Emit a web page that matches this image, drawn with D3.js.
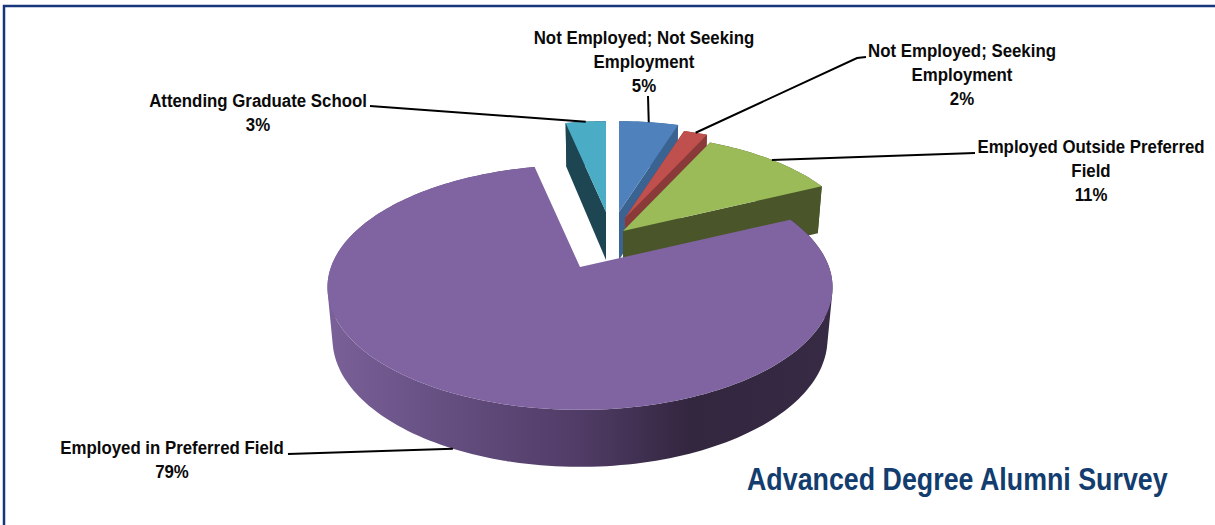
<!DOCTYPE html>
<html><head><meta charset="utf-8">
<script src="https://cdn.jsdelivr.net/npm/d3@7"></script>
<style>html,body{margin:0;padding:0;background:#fff}svg{display:block}</style>
</head><body><svg id="c" width="1215" height="525"></svg>
<script>
const categories=["Not Employed; Not Seeking Employment","Not Employed; Seeking Employment","Employed Outside Preferred Field","Employed in Preferred Field","Attending Graduate School"];
const values=[5,2,11,78.6,3.4];
const percentLabels=["5%","2%","11%","79%","3%"];
const labelLines=[["Not Employed; Not Seeking","Employment"],["Not Employed; Seeking","Employment"],["Employed Outside Preferred","Field"],["Employed in Preferred Field"],["Attending Graduate School"]];
const topColors=["#4F81BD","#C0504D","#9BBB59","#8064A2","#4BACC6"];
const wallColors=["#3A6391","#8A3A38","#4A5529","#5a4676","#1E4552"];
// layout: exploded apex of each slice, disc scale, label centre + first baseline, leader elbow
const apexes=[[619,212],[625,218],[623,231],[580,267],[606,212]];
const discScale=[0.89,0.89,0.945,1,0.89];
const labelPos=[[644,44],[962,57],[1091,153],[172,454],[258,107]];
const leaderStart=[[648,96],[866,57],[975,153],[288,454],[370,106]];
const leaderElbow=[null,[857,58],null,null,null];
const drawOrder=[4,0,1,2,3];
const RX=249,RY=119,PERSP=-0.167,SHRINK=0.98;

const svg=d3.select("#c");
const defs=svg.append("defs");
const grad=defs.append("linearGradient").attr("id","purpleWall").attr("gradientUnits","userSpaceOnUse")
  .attr("x1",327).attr("x2",832).attr("y1",0).attr("y2",0);
[[0,"#7A6199"],[0.3,"#5F4A7A"],[0.5,"#503C66"],[0.72,"#33263F"],[1,"#362A44"]]
  .forEach(s=>grad.append("stop").attr("offset",s[0]).attr("stop-color",s[1]));

svg.append("path").attr("d","M4,525V6H1215").attr("fill","none").attr("stroke","#17357C").attr("stroke-width",2.5);

const pie=d3.pie().sort(null).value(d=>d).startAngle(0).endAngle(2*Math.PI);
const arcs=pie(values);
const onTop=(i,a)=>{const u=Math.sin(a),v=-Math.cos(a),w=1+PERSP*v,s=discScale[i];
  return [apexes[i][0]+RX*s*u/w,apexes[i][1]+RY*s*v/w];};
const down=(i,p)=>[apexes[i][0]+(p[0]-apexes[i][0])*SHRINK,p[1]+44+0.0455*(p[1]-124)];
const line=d3.line();
const quad=q=>line(d3.polygonArea(q)<0?q.slice().reverse():q)+"Z";
drawOrder.forEach(i=>{
  const d=arcs[i],n=Math.max(4,Math.ceil((d.endAngle-d.startAngle)*40));
  const pts=d3.range(n+1).map(k=>onTop(i,d.startAngle+(d.endAngle-d.startAngle)*k/n));
  const apex=apexes[i];
  const g=svg.append("g");
  const fill=i===3?"url(#purpleWall)":wallColors[i];
  const ribbon=d3.range(n).map(k=>quad([pts[k],pts[k+1],down(i,pts[k+1]),down(i,pts[k])])).join("");
  g.append("path").attr("d",ribbon).attr("fill",fill);
  if(i!==3)[pts[0],pts[n]].forEach(e=>g.append("path").attr("d",line([apex,e,down(i,e),down(i,apex)])+"Z").attr("fill",wallColors[i]));
  g.append("path").attr("d",line([apex].concat(pts))+"Z").attr("fill",topColors[i]);
});
// leaders
arcs.forEach((d,i)=>{
  const mid=(d.startAngle+d.endAngle)/2;
  let e=onTop(i,mid); if(i===3) e=down(i,e);
  const pts=[leaderStart[i]]; if(leaderElbow[i]) pts.push(leaderElbow[i]); pts.push(e);
  svg.append("path").attr("d",line(pts)).attr("fill","none").attr("stroke","#000").attr("stroke-width",2);
});
// labels (Liberation Sans Bold, condensed horizontally)
const FONT='"Liberation Sans",Arial,sans-serif';
labelLines.forEach((ls,i)=>{
  const t=svg.append("text").attr("text-anchor","middle").attr("font-family",FONT).attr("font-weight","700").attr("font-size",18.5).attr("fill","#0a0a0a")
    .attr("transform",`translate(${labelPos[i][0]},0) scale(0.91,1)`);
  ls.concat(percentLabels[i]).forEach((s,k)=>t.append("tspan").attr("x",0).attr("y",labelPos[i][1]+k*24).text(s));
});
svg.append("text").attr("font-family",FONT).attr("font-weight","700").attr("font-size",32).attr("fill","#123D6E")
  .attr("transform","translate(747,490) scale(0.838,1)").text("Advanced Degree Alumni Survey");
</script></body></html>
